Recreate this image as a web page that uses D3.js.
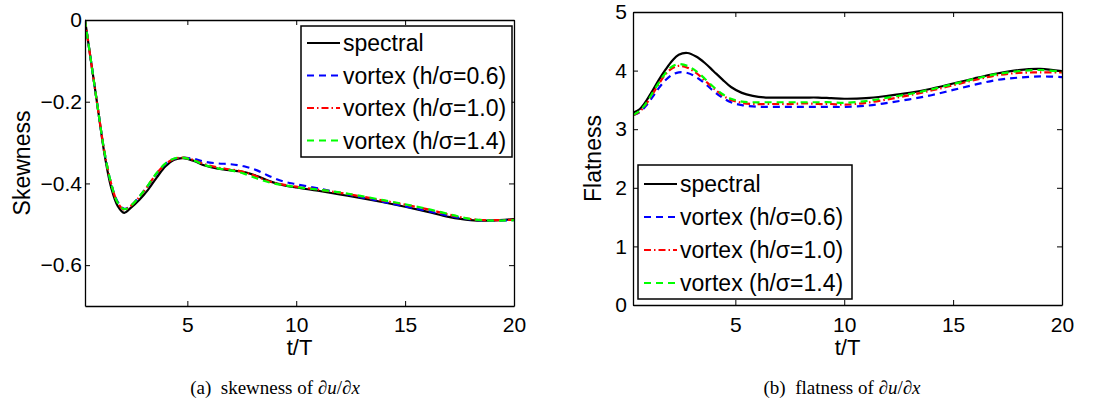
<!DOCTYPE html>
<html>
<head>
<meta charset="utf-8">
<script src="https://cdn.jsdelivr.net/npm/d3@7"></script>
<style>
  body { margin: 0; background: #fff; }
  svg { display: block; }
  text { font-family: "Liberation Sans", Arial, sans-serif; fill: #000; }
</style>
</head>
<body>
<script>
const width = 1102;
const height = 412;

// time samples (t/T)
const tVals = [0.3, 0.6, 0.9, 1.2, 1.5, 1.8, 2.1, 2.4, 2.8, 3.2, 3.6, 4.0, 4.4, 4.8, 5.3, 5.8, 6.4, 7.0, 7.6, 8.2, 8.8, 9.4, 10, 11, 12, 13, 14, 15, 16, 17, 18, 19, 20];

// skewness of du/dx
const skewSpectral = [0, -0.11, -0.22, -0.33, -0.41, -0.455, -0.472, -0.46, -0.44, -0.415, -0.385, -0.358, -0.342, -0.338, -0.345, -0.356, -0.364, -0.368, -0.372, -0.382, -0.395, -0.404, -0.41, -0.418, -0.427, -0.436, -0.446, -0.457, -0.469, -0.482, -0.49, -0.491, -0.487];
const skewV06 = [0, -0.11, -0.22, -0.325, -0.40, -0.445, -0.462, -0.455, -0.432, -0.405, -0.375, -0.352, -0.340, -0.337, -0.340, -0.347, -0.351, -0.353, -0.358, -0.368, -0.383, -0.395, -0.402, -0.412, -0.423, -0.434, -0.445, -0.456, -0.467, -0.479, -0.488, -0.491, -0.490];
const skewV10 = [0, -0.11, -0.22, -0.325, -0.40, -0.447, -0.464, -0.455, -0.433, -0.405, -0.375, -0.352, -0.340, -0.337, -0.343, -0.353, -0.361, -0.366, -0.372, -0.383, -0.396, -0.403, -0.408, -0.415, -0.423, -0.432, -0.442, -0.452, -0.463, -0.476, -0.487, -0.490, -0.489];
const skewV14 = [0, -0.11, -0.22, -0.325, -0.40, -0.447, -0.463, -0.455, -0.432, -0.404, -0.374, -0.351, -0.339, -0.337, -0.344, -0.355, -0.363, -0.368, -0.376, -0.388, -0.398, -0.404, -0.409, -0.415, -0.422, -0.431, -0.441, -0.451, -0.462, -0.475, -0.487, -0.491, -0.490];

// flatness of du/dx
const flatSpectral = [3.28, 3.34, 3.48, 3.66, 3.85, 4.02, 4.17, 4.27, 4.30, 4.24, 4.13, 3.99, 3.85, 3.72, 3.62, 3.57, 3.54, 3.54, 3.54, 3.54, 3.54, 3.53, 3.52, 3.53, 3.57, 3.62, 3.69, 3.78, 3.87, 3.95, 4.01, 4.03, 3.99];
const flatV06 = [3.24, 3.29, 3.40, 3.55, 3.71, 3.84, 3.93, 3.97, 3.96, 3.89, 3.78, 3.65, 3.54, 3.46, 3.41, 3.39, 3.38, 3.38, 3.38, 3.38, 3.38, 3.38, 3.38, 3.40, 3.45, 3.51, 3.58, 3.67, 3.76, 3.84, 3.88, 3.90, 3.89];
const flatV10 = [3.24, 3.30, 3.43, 3.60, 3.78, 3.94, 4.04, 4.08, 4.05, 3.96, 3.83, 3.70, 3.58, 3.50, 3.45, 3.43, 3.43, 3.43, 3.43, 3.44, 3.43, 3.43, 3.42, 3.45, 3.51, 3.58, 3.66, 3.75, 3.84, 3.92, 3.96, 3.97, 3.97];
const flatV14 = [3.24, 3.31, 3.44, 3.62, 3.80, 3.96, 4.07, 4.11, 4.08, 3.99, 3.86, 3.72, 3.60, 3.52, 3.47, 3.46, 3.46, 3.46, 3.46, 3.46, 3.46, 3.46, 3.45, 3.48, 3.54, 3.60, 3.68, 3.77, 3.86, 3.94, 3.99, 4.01, 3.98];

const seriesNames = ["spectral", "vortex (h/\u03c3=0.6)", "vortex (h/\u03c3=1.0)", "vortex (h/\u03c3=1.4)"];
const xTicks = [5, 10, 15, 20];
const skewTicks = [0, -0.2, -0.4, -0.6];
const flatTicks = [0, 1, 2, 3, 4, 5];

const styles = [
  { color: "#000000", dash: null },
  { color: "#0000ff", dash: "7,5" },
  { color: "#ff0000", dash: "7,3,1.5,3" },
  { color: "#00ff00", dash: "7,5" }
];

const svg = d3.select("body")
  .append("svg")
  .attr("width", width)
  .attr("height", height);

const fmt = (d) => (d < 0 ? "\u2212" + String(-d) : String(d));

const drawPanel = (cfg) => {
  const x = d3.scaleLinear().domain([tVals[0], 20]).range([cfg.x0, cfg.x1]);
  const y = d3.scaleLinear().domain(cfg.yDomain).range([cfg.y1, cfg.y0]);
  const g = svg.append("g");

  const line = (vals) => d3.line()
    .x((d, i) => x(tVals[i]))
    .y((d) => y(d))
    .curve(d3.curveCatmullRom.alpha(0.5))(vals);

  const clipId = "clip-" + cfg.id;
  g.append("clipPath").attr("id", clipId)
    .append("rect")
    .attr("x", cfg.x0).attr("y", cfg.y0 - 2)
    .attr("width", cfg.x1 - cfg.x0).attr("height", cfg.y1 - cfg.y0 + 2);

  const lines = g.append("g").attr("clip-path", `url(#${clipId})`);
  cfg.series.forEach((vals, i) => {
    lines.append("path")
      .attr("d", line(vals))
      .attr("fill", "none")
      .attr("stroke", styles[i].color)
      .attr("stroke-width", 2.2)
      .attr("stroke-dasharray", styles[i].dash);
  });

  // axes, ticks pointing inward
  const styleAxis = (sel) => {
    sel.selectAll("path").attr("stroke", "#000").attr("stroke-width", 1.3);
    sel.selectAll("line").attr("stroke", "#000").attr("stroke-width", 1);
    sel.selectAll("text")
      .style("font-family", "'Liberation Sans', Arial, sans-serif")
      .style("font-size", "21px")
      .attr("fill", "#000");
  };

  g.append("g")
    .attr("transform", `translate(0,${cfg.y1})`)
    .call(d3.axisBottom(x).tickValues(xTicks).tickSizeInner(-5).tickSizeOuter(0).tickPadding(cfg.xPad).tickFormat(fmt))
    .call(styleAxis);
  g.append("g")
    .attr("transform", `translate(0,${cfg.y0})`)
    .call(d3.axisTop(x).tickValues(xTicks).tickSizeInner(-5).tickSizeOuter(0).tickFormat(""))
    .call(styleAxis);
  g.append("g")
    .attr("transform", `translate(${cfg.x0},0)`)
    .call(d3.axisLeft(y).tickValues(cfg.yTicks).tickSizeInner(-5).tickSizeOuter(0).tickPadding(cfg.yPad).tickFormat(fmt))
    .call(styleAxis);
  g.append("g")
    .attr("transform", `translate(${cfg.x1},0)`)
    .call(d3.axisRight(y).tickValues(cfg.yTicks).tickSizeInner(-5).tickSizeOuter(0).tickFormat(""))
    .call(styleAxis);

  // axis titles
  g.append("text")
    .attr("x", (cfg.x0 + cfg.x1) / 2)
    .attr("y", 355)
    .attr("text-anchor", "middle")
    .style("font-size", "22px")
    .text("t/T");
  g.append("text")
    .attr("transform", `translate(${cfg.ylabX},${(cfg.y0 + cfg.y1) / 2}) rotate(-90)`)
    .attr("text-anchor", "middle")
    .style("font-size", "23px")
    .text(cfg.ylabel);

  // legend
  const L = cfg.legend;
  const leg = g.append("g");
  leg.append("rect")
    .attr("x", L.x).attr("y", L.y)
    .attr("width", L.w).attr("height", L.h)
    .attr("fill", "#fff")
    .attr("stroke", "#000")
    .attr("stroke-width", 1.5);
  seriesNames.forEach((name, i) => {
    const ry = L.y + L.first + i * L.step;
    leg.append("line")
      .attr("x1", L.x + 6).attr("x2", L.x + 39)
      .attr("y1", ry).attr("y2", ry)
      .attr("stroke", styles[i].color)
      .attr("stroke-width", 2.2)
      .attr("stroke-dasharray", styles[i].dash);
    leg.append("text")
      .attr("x", L.x + 42)
      .attr("y", ry)
      .attr("dy", "0.35em")
      .style("font-size", "23px")
      .text(name);
  });

  // caption
  const cap = g.append("text")
    .attr("x", cfg.capX)
    .attr("y", 394)
    .attr("text-anchor", "middle")
    .style("font-family", "'Liberation Serif', 'Times New Roman', serif")
    .style("font-size", "19px");
  cap.append("tspan").text(cfg.capLabel + "\u00a0 " + cfg.capText + " of \u2202");
  cap.append("tspan").style("font-style", "italic").text("u");
  cap.append("tspan").text("/\u2202");
  cap.append("tspan").style("font-style", "italic").text("x");
};

drawPanel({
  id: "skew",
  x0: 85, x1: 514, y0: 20, y1: 306,
  yDomain: [-0.7, 0],
  yTicks: skewTicks,
  xPad: 11, yPad: 3,
  ylabX: 30,
  ylabel: "Skewness",
  series: [skewSpectral, skewV06, skewV10, skewV14],
  legend: { x: 301, y: 26, w: 211, h: 131, first: 17, step: 32.5 },
  capX: 275, capLabel: "(a)", capText: "skewness"
});

drawPanel({
  id: "flat",
  x0: 633, x1: 1062, y0: 12, y1: 305,
  yDomain: [0, 5],
  yTicks: flatTicks,
  xPad: 12, yPad: 6,
  ylabX: 601,
  ylabel: "Flatness",
  series: [flatSpectral, flatV06, flatV10, flatV14],
  legend: { x: 638, y: 165, w: 214, h: 134, first: 19, step: 33 },
  capX: 842, capLabel: "(b)", capText: "flatness"
});
</script>
</body>
</html>
